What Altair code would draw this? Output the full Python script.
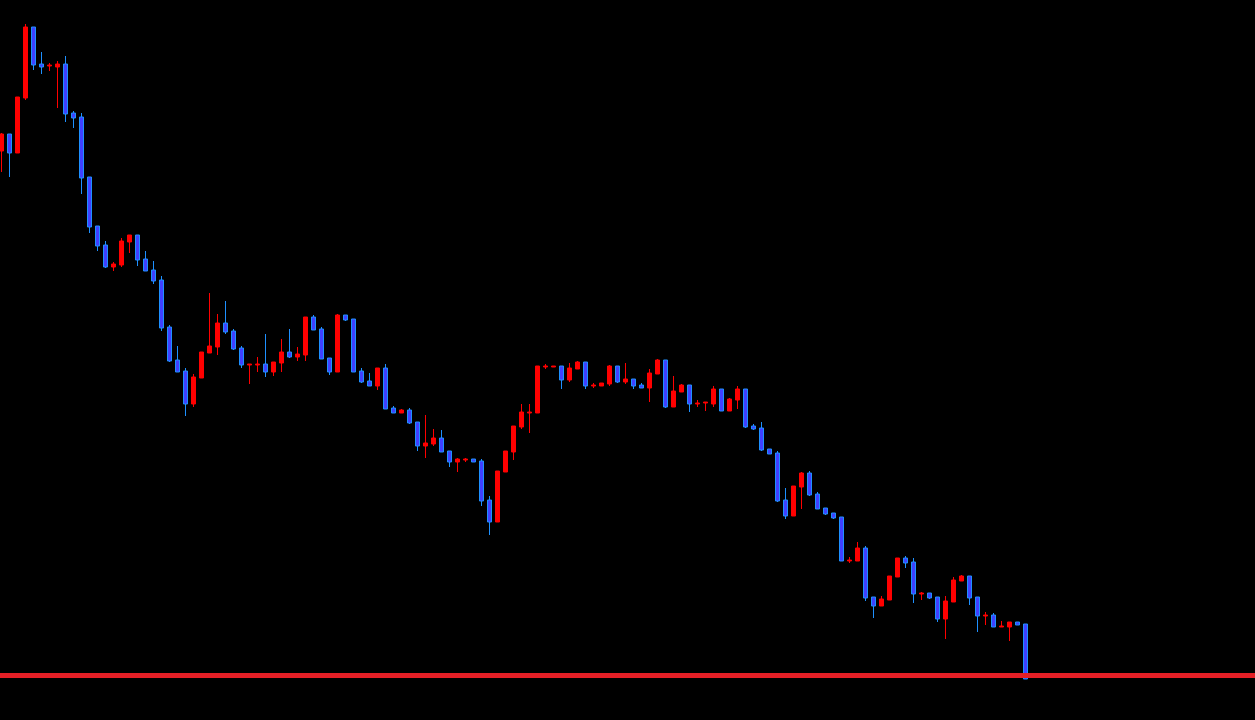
import altair as alt
import pandas as pd
import jinja2

# ---- candle data (price units), one entry per bar, oldest first ----
opens = [148.49, 148.66, 148.47, 149.02, 149.73, 149.36, 149.34, 149.33, 149.36, 148.87,
         148.83, 148.23, 147.74, 147.55, 147.33, 147.35, 147.58, 147.65, 147.41, 147.30,
         147.20, 146.73, 146.40, 146.29, 145.96, 146.22, 146.47, 146.53, 146.77, 146.69,
         146.52, 146.35, 146.35, 146.36, 146.28, 146.37, 146.48, 146.43, 146.45, 146.83,
         146.71, 146.42, 146.28, 146.85, 146.81, 146.29, 146.19, 146.14, 146.32, 145.92,
         145.87, 145.90, 145.78, 145.54, 145.56, 145.62, 145.49, 145.38, 145.40, 145.41,
         145.39, 145.00, 144.78, 145.28, 145.48, 145.73, 145.87, 145.87, 146.33, 146.33,
         146.34, 146.20, 146.31, 146.38, 146.14, 146.14, 146.16, 146.34, 146.18, 146.21,
         146.15, 146.12, 146.26, 146.40, 145.93, 146.08, 146.15, 145.96, 145.97, 145.96,
         146.11, 145.89, 146.00, 146.11, 145.74, 145.72, 145.51, 145.47, 145.00, 144.84,
         145.13, 145.27, 145.06, 144.92, 144.87, 144.83, 144.39, 144.39, 144.52, 144.03,
         143.94, 144.00, 144.23, 144.42, 144.38, 144.06, 144.07, 144.03, 143.81, 143.98,
         144.19, 144.24, 144.03, 143.84, 143.85, 143.73, 143.73, 143.78, 143.76]
highs = [148.67, 148.66, 149.03, 149.76, 149.73, 149.48, 149.37, 149.39, 149.44, 148.89,
         148.87, 148.23, 147.74, 147.59, 147.38, 147.62, 147.65, 147.65, 147.49, 147.39,
         147.24, 146.75, 146.54, 146.32, 146.26, 146.48, 147.07, 146.86, 146.99, 146.71,
         146.54, 146.36, 146.43, 146.66, 146.38, 146.61, 146.71, 146.53, 146.83, 146.85,
         146.73, 146.42, 146.86, 146.85, 146.81, 146.32, 146.27, 146.32, 146.36, 145.94,
         145.91, 145.92, 145.78, 145.85, 145.71, 145.70, 145.49, 145.42, 145.42, 145.41,
         145.41, 145.04, 145.29, 145.49, 145.74, 145.96, 145.96, 146.34, 146.36, 146.34,
         146.34, 146.37, 146.39, 146.38, 146.17, 146.17, 146.35, 146.34, 146.37, 146.21,
         146.17, 146.31, 146.41, 146.40, 146.24, 146.16, 146.15, 146.00, 145.98, 146.14,
         146.11, 146.02, 146.14, 146.11, 145.76, 145.78, 145.51, 145.49, 145.12, 145.14,
         145.28, 145.29, 145.08, 144.92, 144.87, 144.83, 144.43, 144.58, 144.54, 144.03,
         144.04, 144.24, 144.42, 144.44, 144.42, 144.08, 144.07, 144.03, 144.04, 144.23,
         144.25, 144.24, 144.03, 143.88, 143.87, 143.79, 143.78, 143.78, 143.76]
lows = [148.28, 148.23, 148.47, 149.00, 149.30, 149.26, 149.29, 148.92, 148.78, 148.72,
        148.06, 147.67, 147.49, 147.32, 147.29, 147.33, 147.47, 147.34, 147.29, 147.16,
        146.69, 146.38, 146.28, 145.84, 145.93, 146.22, 146.47, 146.45, 146.66, 146.50,
        146.32, 146.16, 146.28, 146.23, 146.24, 146.28, 146.42, 146.39, 146.39, 146.70,
        146.41, 146.25, 146.28, 146.79, 146.28, 146.17, 146.14, 146.10, 145.91, 145.87,
        145.87, 145.76, 145.49, 145.42, 145.54, 145.48, 145.33, 145.28, 145.38, 145.38,
        144.94, 144.65, 144.78, 145.28, 145.40, 145.71, 145.67, 145.87, 146.31, 146.33,
        146.11, 146.18, 146.31, 146.11, 146.12, 146.14, 146.14, 146.17, 146.16, 146.11,
        146.12, 145.98, 146.26, 145.92, 145.93, 146.08, 145.88, 145.93, 145.89, 145.93,
        145.89, 145.89, 145.91, 145.72, 145.70, 145.49, 145.46, 144.98, 144.81, 144.84,
        144.91, 145.04, 144.91, 144.85, 144.81, 144.39, 144.37, 144.39, 143.99, 143.82,
        143.94, 144.00, 144.23, 144.32, 143.97, 144.00, 144.01, 143.78, 143.61, 143.98,
        144.19, 143.95, 143.68, 143.75, 143.73, 143.73, 143.59, 143.75, 143.21]
closes = [148.66, 148.47, 149.03, 149.73, 149.35, 149.33, 149.35, 149.36, 148.86, 148.82,
          148.22, 147.73, 147.54, 147.33, 147.36, 147.59, 147.65, 147.40, 147.29, 147.19,
          146.72, 146.39, 146.28, 145.96, 146.23, 146.48, 146.54, 146.77, 146.68, 146.51,
          146.35, 146.36, 146.36, 146.28, 146.38, 146.48, 146.43, 146.46, 146.83, 146.70,
          146.41, 146.28, 146.85, 146.80, 146.28, 146.18, 146.14, 146.32, 145.91, 145.87,
          145.90, 145.77, 145.54, 145.57, 145.62, 145.48, 145.38, 145.41, 145.41, 145.38,
          144.99, 144.78, 145.29, 145.49, 145.74, 145.88, 145.88, 146.34, 146.34, 146.34,
          146.20, 146.32, 146.38, 146.14, 146.15, 146.17, 146.34, 146.18, 146.21, 146.14,
          146.12, 146.27, 146.40, 145.93, 146.09, 146.15, 145.96, 145.97, 145.98, 146.11,
          145.89, 146.01, 146.11, 145.73, 145.71, 145.50, 145.46, 144.99, 144.84, 145.14,
          145.27, 145.05, 144.91, 144.86, 144.82, 144.39, 144.40, 144.52, 144.02, 143.94,
          144.01, 144.24, 144.42, 144.37, 144.06, 144.07, 144.02, 143.81, 143.99, 144.20,
          144.24, 144.02, 143.84, 143.85, 143.73, 143.74, 143.78, 143.75, 143.21]
support_level = [143.245]

UP_COLOR = "#FF0000"
DOWN_FILL = "#4040FF"
DOWN_EDGE = "#1E90FF"
LEVEL_COLOR = "#E41F26"

n = len(opens)
df = pd.DataFrame({
    "bar": list(range(n)),
    "open": opens, "high": highs, "low": lows, "close": closes,
})
df["dir"] = ["up" if c >= o else "down" for o, c in zip(opens, closes)]
level_df = pd.DataFrame({"price": support_level})

W, H = 1255, 720
x_scale = alt.Scale(domain=[-0.1875, 156.6875], nice=False, zero=False, padding=0)
y_scale = alt.Scale(domain=[142.80, 150.00], nice=False, zero=False, padding=0)

x_enc = alt.X("bar:Q", scale=x_scale, axis=None)

wicks = alt.Chart(df).mark_rule(strokeWidth=1).encode(
    x=x_enc,
    y=alt.Y("low:Q", scale=y_scale, axis=None),
    y2="high:Q",
    color=alt.Color("dir:N", scale=alt.Scale(domain=["up", "down"], range=[UP_COLOR, DOWN_EDGE]), legend=None),
)

bodies = alt.Chart(df).mark_bar(size=4, strokeWidth=1, opacity=1).encode(
    x=x_enc,
    y=alt.Y("open:Q", scale=y_scale, axis=None),
    y2="close:Q",
    fill=alt.Fill("dir:N", scale=alt.Scale(domain=["up", "down"], range=[UP_COLOR, DOWN_FILL]), legend=None),
    stroke=alt.Stroke("dir:N", scale=alt.Scale(domain=["up", "down"], range=[UP_COLOR, DOWN_EDGE]), legend=None),
)

level = alt.Chart(level_df).mark_rule(strokeWidth=5, color=LEVEL_COLOR).encode(
    y=alt.Y("price:Q", scale=y_scale, axis=None),
)

chart = alt.layer(wicks, bodies, level).resolve_scale(
    color="independent", fill="independent", stroke="independent"
).properties(
    width=W, height=H,
    autosize=alt.AutoSizeParams(type="none"),
    padding=0,
    background="#000000",
).configure_view(stroke=None, fill="#000000")

PAGE = jinja2.Template("""<!DOCTYPE html>
<html>
<head>
<meta charset="utf-8">
<style>
html, body { margin: 0; padding: 0; background: #000000; overflow: hidden; }
#{{ output_div }} { margin: 0; padding: 0; line-height: 0; }
#{{ output_div }} svg { display: block; }
</style>
<script type="text/javascript" src="{{ base_url }}/vega@{{ vega_version }}"></script>
<script type="text/javascript" src="{{ base_url }}/vega-lite@{{ vegalite_version }}"></script>
<script type="text/javascript" src="{{ base_url }}/vega-embed@{{ vegaembed_version }}"></script>
</head>
<body>
<div id="{{ output_div }}"></div>
<script type="text/javascript">
  var spec = {{ spec }};
  var embedOpt = {{ embed_options }};
  vegaEmbed("#{{ output_div }}", spec, embedOpt).catch(function(err) {
    document.getElementById("{{ output_div }}").innerHTML = String(err);
  });
</script>
</body>
</html>
""")

chart.save("out.html", embed_options={"renderer": "svg", "actions": False}, template=PAGE)
